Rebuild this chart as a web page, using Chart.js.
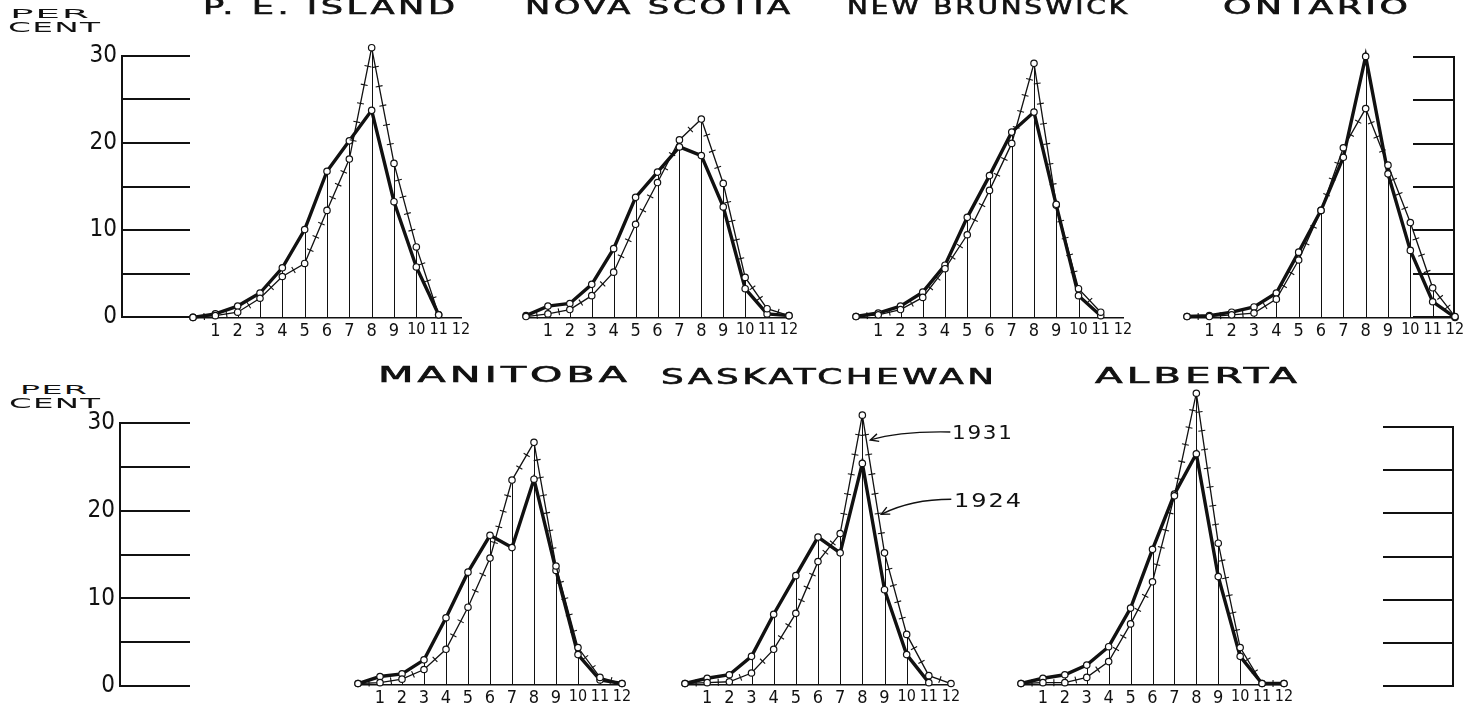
<!DOCTYPE html>
<html><head><meta charset="utf-8">
<script src="https://cdn.jsdelivr.net/npm/chart.js@4.4.1/dist/chart.umd.min.js"></script>
<style>
html,body{margin:0;padding:0;background:#fff;width:1465px;height:709px;overflow:hidden;position:relative}
.pane{position:absolute}
.pane canvas{display:block}
.lbl{position:absolute;white-space:nowrap;font-family:'DejaVu Sans',sans-serif;color:#111;line-height:1;transform-origin:0 0}
.ttl{-webkit-text-stroke:0.6px #111}
</style></head><body>
<script>
// ---------- DATA ----------
const grades = [0,1,2,3,4,5,6,7,8,9,10,11,12];
const gradeLabels = ['','1','2','3','4','5','6','7','8','9','10','11','12'];
const scaleLabels = {0:'0',10:'10',20:'20',30:'30'};
const years = ['1924','1931'];
const provinces = ['P. E. ISLAND','NOVA SCOTIA','NEW BRUNSWICK','ONTARIO','MANITOBA','SASKATCHEWAN','ALBERTA'];

const pei1924 = [0,0.4,1.3,2.8,5.7,10.1,16.8,20.3,23.8,13.3,5.8,0.3,null];
const pei1931 = [0,0.2,0.6,2.2,4.7,6.2,12.3,18.2,31.0,17.7,8.1,0.3,null];
const ns1924  = [0.2,1.3,1.6,3.8,7.9,13.8,16.7,19.6,18.6,12.7,3.3,0.4,0.2];
const ns1931  = [0.1,0.4,0.9,2.5,5.2,10.7,15.5,20.4,22.8,15.4,4.6,1.0,0.2];
const nb1924  = [0.1,0.5,1.3,2.9,6.0,11.5,16.3,21.3,23.6,12.9,2.5,0.2,null];
const nb1931  = [0.1,0.3,0.9,2.3,5.6,9.5,14.6,20.0,29.2,13.0,3.3,0.6,null];
const on1924  = [0.1,0.2,0.6,1.2,2.8,7.5,12.3,18.4,30.0,16.5,7.7,1.8,0];
const on1931  = [0.1,0.1,0.3,0.5,2.1,6.6,12.3,19.5,24.0,17.5,10.9,3.4,0.1];
const mb1924  = [0.1,0.9,1.2,2.8,7.6,12.8,17.0,15.6,23.4,13.0,3.4,0.5,0.1];
const mb1931  = [0.1,0.2,0.6,1.7,4.0,8.8,14.4,23.3,27.6,13.5,4.2,0.8,0.1];
const sk1924  = [0.1,0.7,1.1,3.2,8.0,12.4,16.8,15.0,25.2,10.8,3.4,0.2,null];
const sk1931  = [0.1,0.2,0.3,1.3,4.0,8.1,14.0,17.2,30.7,15.0,5.7,1.0,0.1];
const ab1924  = [0.1,0.7,1.1,2.2,4.3,8.7,15.4,21.7,26.3,12.3,3.2,0.1,0.1];
const ab1931  = [0.1,0.2,0.2,0.8,2.6,6.9,11.7,21.5,33.2,16.1,4.2,0.1,0.1];

// ---------- LAYOUT ----------
const INK = '#111';
const tickFamily = "'Liberation Sans Narrow','DejaVu Sans Condensed',sans-serif";
const scaleFont = {family:tickFamily, size:24};

const panels = [
  {title:provinces[0], a:pei1924, b:pei1931, x0:193, sp:22.3, base:317, ppu:8.7, tx:329, ty:7,   tw:252},
  {title:provinces[1], a:ns1924,  b:ns1931,  x0:526, sp:21.95,base:317, ppu:8.7, tx:657, ty:7,   tw:265},
  {title:provinces[2], a:nb1924,  b:nb1931,  x0:856, sp:22.25,base:317, ppu:8.7, tx:987, ty:7,   tw:280},
  {title:provinces[3], a:on1924,  b:on1931,  x0:1187,sp:22.35,base:317, ppu:8.7, tx:1315,ty:7,   tw:185},
  {title:provinces[4], a:mb1924,  b:mb1931,  x0:358, sp:22.0, base:684, ppu:8.77,tx:502, ty:375, tw:249},
  {title:provinces[5], a:sk1924,  b:sk1931,  x0:685, sp:22.2, base:684, ppu:8.77,tx:827, ty:377, tw:333, arrows:true},
  {title:provinces[6], a:ab1924,  b:ab1931,  x0:1021,sp:21.9, base:684, ppu:8.77,tx:1196,ty:376, tw:202}
];

const boxes = [
  {side:'left',  x1:122,  x2:190,  base:317, top:56},
  {side:'right', x1:1413, x2:1453, base:317, top:57},
  {side:'left',  x1:120,  x2:190,  base:686, top:423},
  {side:'right', x1:1383, x2:1452, base:686, top:427}
];

function addText(str, cx, cy, capH, w, ls, cls){
  const fs = capH/0.729;
  const el = document.createElement('div');
  el.className = 'lbl' + (cls ? ' '+cls : '');
  el.textContent = str;
  const lsp = (ls==null?0.1:ls)*fs;
  el.style.fontSize = fs+'px';
  el.style.letterSpacing = lsp+'px';
  document.body.appendChild(el);
  const nat = el.getBoundingClientRect().width - lsp;
  el.style.left = (cx - w/2)+'px';
  el.style.top = (cy - 0.4815*fs)+'px';
  el.style.transform = 'scaleX('+(w/nat)+')';
}

function makePanel(p){
  const div = document.createElement('div'); div.className='pane';
  const W = Math.round(p.sp*12) + 40;
  const H = Math.round(36*p.ppu) + 40;
  const cv = document.createElement('canvas');
  cv.width = W; cv.height = H;
  div.appendChild(cv); document.body.appendChild(div);

  const decor = {
    id:'decor'+p.x0,
    beforeDatasetsDraw(chart){
      const {ctx} = chart; const xs = chart.scales.x, ys = chart.scales.y;
      ctx.save(); ctx.strokeStyle = INK; ctx.lineWidth = 1;
      for (let i=1;i<grades.length-1;i++){
        const v = Math.max(p.a[i]||0, p.b[i]||0);
        if (v < 0.5) continue;
        const x = Math.round(xs.getPixelForValue(grades[i]))+0.5;
        ctx.beginPath(); ctx.moveTo(x, ys.getPixelForValue(0)); ctx.lineTo(x, ys.getPixelForValue(v)); ctx.stroke();
      }
      ctx.restore();
    },
    afterDatasetsDraw(chart){
      const {ctx} = chart;
      const pts = chart.getDatasetMeta(0).data;
      ctx.save(); ctx.strokeStyle = INK; ctx.lineWidth = 1.1;
      for (let i=0;i<pts.length-1;i++){
        const p1 = pts[i], p2 = pts[i+1];
        if (p1.skip || p2.skip) continue;
        const dx = p2.x-p1.x, dy = p2.y-p1.y, len = Math.hypot(dx,dy);
        if (len < 14) continue;
        const n = Math.max(1, Math.round(len/22));
        const ux = dx/len, uy = dy/len, nx = -uy, ny = ux;
        for (let k=1;k<=n;k++){
          const s = len*k/(n+1);
          const cx = p1.x+ux*s, cy = p1.y+uy*s;
          ctx.beginPath(); ctx.moveTo(cx-nx*3.5, cy-ny*3.5); ctx.lineTo(cx+nx*3.5, cy+ny*3.5); ctx.stroke();
        }
      }
      if (p.arrows){
        const along = (t)=>({x:pts[8].x+(pts[9].x-pts[8].x)*t, y:pts[8].y+(pts[9].y-pts[8].y)*t});
        const drawArrow = (tip, sx, sy, cxo, cyo)=>{
          const start = {x:tip.x+sx, y:tip.y+sy};
          const ctrl = {x:tip.x+cxo, y:tip.y+cyo};
          ctx.lineWidth = 1.4;
          ctx.beginPath(); ctx.moveTo(start.x,start.y); ctx.quadraticCurveTo(ctrl.x,ctrl.y,tip.x,tip.y); ctx.stroke();
          const ang = Math.atan2(ctrl.y-tip.y, ctrl.x-tip.x);
          ctx.beginPath();
          ctx.moveTo(tip.x+9*Math.cos(ang-0.45), tip.y+9*Math.sin(ang-0.45));
          ctx.lineTo(tip.x, tip.y);
          ctx.lineTo(tip.x+9*Math.cos(ang+0.45), tip.y+9*Math.sin(ang+0.45));
          ctx.stroke();
        };
        const t1 = along(0.18); t1.x += 4;
        drawArrow(t1, 80, -8, 30, -9);
        const t2 = along(0.72); t2.x += 3;
        drawArrow(t2, 70, -15, 30, -15);
      }
      ctx.restore();
    }
  };

  const mk = (arr)=>grades.map((g,i)=>({x:g, y:arr[i]}));
  const ch = new Chart(cv, {
    type:'line',
    data:{datasets:[
      {label:years[1], data:mk(p.b), borderColor:INK, borderWidth:1.3, pointRadius:3.2, pointBackgroundColor:'#fff', pointBorderColor:INK, pointBorderWidth:1.2, tension:0, clip:false, spanGaps:false},
      {label:years[0], data:mk(p.a), borderColor:INK, borderWidth:3.4, pointRadius:3.2, pointBackgroundColor:'#fff', pointBorderColor:INK, pointBorderWidth:1.2, tension:0, clip:false, spanGaps:false}
    ]},
    options:{
      responsive:false, animation:false, devicePixelRatio:1,
      layout:{padding:{left:20,right:20,top:10,bottom:0}},
      plugins:{legend:{display:false}, tooltip:{enabled:false}},
      scales:{
        x:{type:'linear', min:0, max:12,
           ticks:{stepSize:1, autoSkip:false, maxRotation:0, padding:3, color:INK,
                  font:(c)=>({family:tickFamily, size:(c.tick && c.tick.value>=10)?16:18}),
                  callback:(v)=>{const i=grades.indexOf(v); return i<0?'':gradeLabels[i];}},
           grid:{display:true, drawOnChartArea:false, drawTicks:false, color:'rgba(0,0,0,0)'},
           border:{display:true, color:INK, width:1.5}},
        y:{display:false, min:0, max:36}
      }
    },
    plugins:[decor]
  });
  const ca = ch.chartArea;
  ch.options.scales.y.max = (ca.bottom - ca.top)/p.ppu;
  ch.update('none');
  div.style.left = (p.x0 - ca.left)+'px';
  div.style.top = (p.base - ch.chartArea.bottom)+'px';
  addText(p.title, p.tx, p.ty, 15, p.tw, 0.1, 'ttl');
}

function makeBox(b){
  const div = document.createElement('div'); div.className='pane';
  const axisW = b.side==='left' ? 60 : 0;
  const W = axisW + (b.x2-b.x1) + 4;
  const H = (b.base-b.top) + 40;
  const cv = document.createElement('canvas'); cv.width=W; cv.height=H;
  div.appendChild(cv); document.body.appendChild(div);
  const ch = new Chart(cv, {
    type:'line',
    data:{datasets:[]},
    options:{
      responsive:false, animation:false, devicePixelRatio:1,
      layout:{padding:{top:20,bottom:20,left:0,right:b.side==='left'?4:3}},
      plugins:{legend:{display:false}, tooltip:{enabled:false}},
      scales:{
        x:{type:'linear', display:false, min:0, max:1},
        y:{position:b.side, min:0, max:30,
           ticks:{stepSize:5, autoSkip:false, display:b.side==='left', padding:5, color:INK, font:scaleFont,
                  callback:(v)=> scaleLabels[v] ?? ''},
           grid:{color:INK, lineWidth:2, drawTicks:false},
           border:{display:true, color:INK, width:2},
           afterFit:(s)=>{ s.width = axisW; }}
      }
    }
  });
  const ca = ch.chartArea;
  div.style.left = (b.x1 - ca.left)+'px';
  div.style.top = (b.top - ca.top)+'px';
}

boxes.forEach(makeBox);
panels.forEach(makePanel);

addText('PER', 49.5, 13.5, 9, 79, 0.04);
addText('CENT', 54, 28, 10, 92, 0.04);
addText('PER', 53.5, 389.5, 9, 67, 0.04);
addText('CENT', 54.5, 403.5, 10, 91, 0.04);
addText(years[1], 982, 432, 14, 60, 0.08);
addText(years[0], 987, 500, 14, 67, 0.08);
</script>
</body></html>
